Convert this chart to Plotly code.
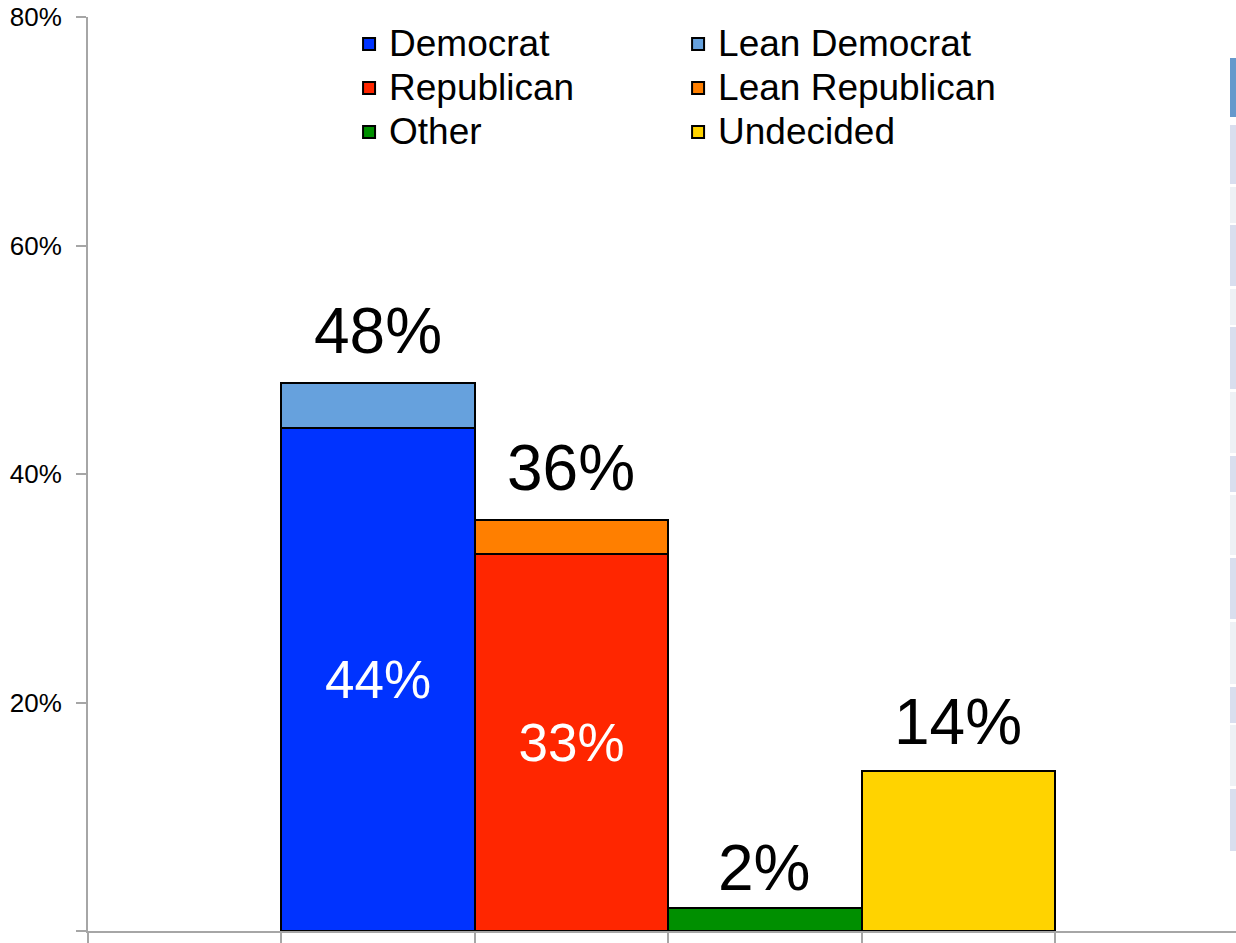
import plotly.graph_objects as go

# ---- data ----
slots = ["s0", "Democrat", "Republican", "Other", "Undecided", "s5"]
series_names = ["Democrat", "Lean Democrat", "Republican", "Lean Republican", "Other", "Undecided"]
series_slot = ["Democrat", "Democrat", "Republican", "Republican", "Other", "Undecided"]
series_values = [44, 4, 33, 3, 2, 14]
series_colors = ["#0033FF", "#66A1DD", "#FF2600", "#FF7F00", "#008F00", "#FFD300"]
series_legend = ["legend", "legend2", "legend", "legend2", "legend", "legend2"]
inner_labels = ["44%", "", "33%", "", "", ""]
total_slots = ["Democrat", "Republican", "Other", "Undecided"]
total_values = [48, 36, 2, 14]
total_labels = ["48%", "36%", "2%", "14%"]
total_shift = [14, 14, 2, 11]
y_ticks = [0, 20, 40, 60, 80]
y_ticklabels = ["0%", "20%", "40%", "60%", "80%"]

FONT = "Liberation Sans, Arial, sans-serif"
W, H = 1236, 943
ML, MR, MT, MB = 88, 0, 17, 12

fig = go.Figure()
for name, slot, val, col, lab, lg in zip(series_names, series_slot, series_values,
                                         series_colors, inner_labels, series_legend):
    fig.add_trace(go.Bar(
        name=f"<span style='font-size:37px'>{name}</span>", x=[slot], y=[val],
        legend=lg,
        marker=dict(color=col, line=dict(color="black", width=2)),
        text=[lab] if lab else None,
        textposition="inside" if lab else "none",
        insidetextanchor="middle",
        textfont=dict(family=FONT, size=53, color="white"),
        hoverinfo="skip",
    ))

for s, v, lab, sh in zip(total_slots, total_values, total_labels, total_shift):
    fig.add_annotation(x=s, y=v, text=lab, showarrow=False, yanchor="bottom",
                       yshift=sh, font=dict(family=FONT, size=64, color="black"))

# decorative stripes at the right edge (screenshot artifact)
stripe_bands = [(58, 117, "#6699CC"), (125, 184, "#D9DEEE"), (187, 223, "#EEF1F5"),
                (225, 286, "#D9DEEE"), (289, 325, "#EEF1F5"), (327, 389, "#D9DEEE"),
                (392, 453, "#EEF1F5"), (456, 492, "#D9DEEE"), (495, 555, "#EEF1F5"),
                (558, 619, "#D9DEEE"), (622, 684, "#EEF1F5"), (687, 723, "#D9DEEE"),
                (725, 786, "#EEF1F5"), (789, 851, "#D9DEEE")]
pw, ph = W - ML - MR, H - MT - MB
for y0, y1, c in stripe_bands:
    fig.add_shape(type="rect", xref="paper", yref="paper",
                  x0=(1230 - ML) / pw, x1=(1240 - ML) / pw,
                  y0=(H - MB - y1) / ph, y1=(H - MB - y0) / ph,
                  line=dict(width=0), fillcolor=c, layer="below")

axis_col = "#A6A6A6"
legend_common = dict(orientation="v", yanchor="top", xanchor="left",
                     font=dict(family=FONT, size=31.5, color="black"),
                     bgcolor="rgba(0,0,0,0)", traceorder="normal", tracegroupgap=0,
                     borderwidth=0)
fig.update_layout(
    width=W, height=H,
    margin=dict(l=ML, r=MR, t=MT, b=MB, pad=0, autoexpand=False),
    barmode="stack", bargap=0,
    plot_bgcolor="white", paper_bgcolor="white",
    font=dict(family=FONT, color="black"),
    showlegend=True,
    legend=dict(x=0.2274, y=1.0, **legend_common),
    legend2=dict(x=0.514, y=1.0, **legend_common),
    xaxis=dict(type="category", categoryorder="array", categoryarray=slots,
               range=[-0.5, 5.436], showticklabels=False, showgrid=False,
               showline=True, linecolor=axis_col, linewidth=2,
               ticks="outside", tickson="boundaries", ticklen=10, tickwidth=2, tickcolor=axis_col,
               zeroline=False, fixedrange=True),
    yaxis=dict(range=[0, 80], tickmode="array", tickvals=y_ticks, ticktext=y_ticklabels,
               showgrid=False, zeroline=False, showline=True, linecolor=axis_col, linewidth=2,
               ticks="outside", ticklen=10, tickwidth=2, tickcolor=axis_col,
               tickfont=dict(family=FONT, size=26, color="black"), ticklabelstandoff=9),
)

fig.write_html("out.html", config={"displayModeBar": False},
               post_script="document.body.style.margin='0';")
